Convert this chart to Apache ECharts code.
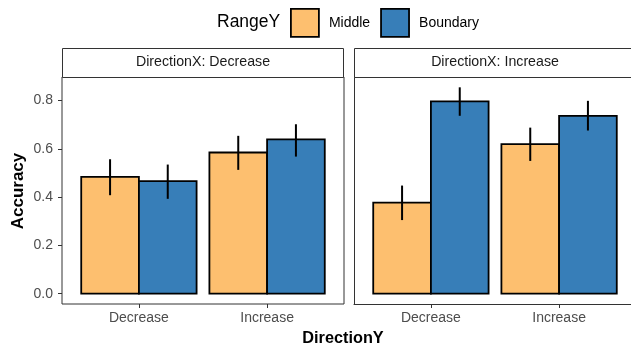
<!DOCTYPE html>
<html>
<head>
<meta charset="utf-8">
<script src="https://cdn.jsdelivr.net/npm/echarts@6/dist/echarts.min.js"></script>
<style>html,body{margin:0;padding:0;background:#fff}#c{width:631px;height:348px}</style>
</head>
<body>
<div id="c"></div>
<script>
// ---- data ----
const categories = ['Decrease', 'Increase'];          // DirectionY
const panels = ['DirectionX: Decrease', 'DirectionX: Increase'];
const rangeNames = ['Middle', 'Boundary'];
// [panel][category]
const middleMean = [[0.484, 0.585], [0.377, 0.620]];
const middleLow  = [[0.408, 0.513], [0.305, 0.550]];
const middleHigh = [[0.557, 0.654], [0.448, 0.688]];
const boundaryMean = [[0.466, 0.639], [0.797, 0.737]];
const boundaryLow  = [[0.393, 0.568], [0.737, 0.676]];
const boundaryHigh = [[0.535, 0.702], [0.855, 0.799]];
const yTicks = [0, 0.2, 0.4, 0.6, 0.8];
const yTickLabels = ['0.0', '0.2', '0.4', '0.6', '0.8'];

const colors = {Middle: '#FDBF6F', Boundary: '#377EB8'};
const FONT = 'Liberation Sans, Arial, sans-serif';

const chart = echarts.init(document.getElementById('c'), null, {renderer: 'canvas'});

const gridDefs = [
  {left: 62, top: 77, width: 282, height: 227},
  {left: 354, top: 77, width: 282, height: 227}
];

const yMin = -0.04275, yMax = 0.89775;

const xAxes = gridDefs.map((g, i) => ({
  type: 'value', gridIndex: i, min: 0.4, max: 2.6,
  splitLine: {show: false},
  axisLine: {show: i === 1, onZero: false, lineStyle: {color: '#333', width: 1}},
  axisTick: {show: true, customValues: [1, 2], length: 4, lineStyle: {color: '#333', width: 1}},
  axisLabel: {show: true, customValues: [1, 2], margin: 7, color: '#4d4d4d', fontSize: 14, fontFamily: FONT,
    formatter: v => categories[Math.round(v) - 1] || ''}
}));
const yAxes = gridDefs.map((g, i) => ({
  type: 'value', gridIndex: i, min: yMin, max: yMax,
  splitLine: {show: false},
  axisLine: {show: i === 1, onZero: false, lineStyle: {color: '#333', width: 1}},
  axisTick: {show: i === 0, customValues: yTicks, length: 4, lineStyle: {color: '#333', width: 1}},
  axisLabel: {show: i === 0, customValues: yTicks, margin: 9, color: '#4d4d4d', fontSize: 14, fontFamily: FONT,
    formatter: v => { const k = yTicks.findIndex(t => Math.abs(t - v) < 1e-9); return k >= 0 ? yTickLabels[k] : ''; }}
}));

function makeSeries(panel, rname) {
  const mean = rname === 'Middle' ? middleMean : boundaryMean;
  const low = rname === 'Middle' ? middleLow : boundaryLow;
  const high = rname === 'Middle' ? middleHigh : boundaryHigh;
  const off = rname === 'Middle' ? -0.45 : 0;
  const data = categories.map((c, k) => [k + 1, mean[panel][k], low[panel][k], high[panel][k]]);
  return {
    type: 'custom', name: rname, xAxisIndex: panel, yAxisIndex: panel,
    itemStyle: {color: colors[rname], borderColor: '#000', borderWidth: 1.8},
    encode: {x: 0, y: 1},
    data: data,
    renderItem: function (params, api) {
      const x = api.value(0), v = api.value(1), lo = api.value(2), hi = api.value(3);
      const p0 = api.coord([x + off, v]);
      const p1 = api.coord([x + off + 0.45, 0]);
      const e0 = api.coord([x + off + 0.225, lo]);
      const e1 = api.coord([x + off + 0.225, hi]);
      return {
        type: 'group',
        children: [
          {type: 'rect', shape: {x: p0[0], y: p0[1], width: p1[0] - p0[0], height: p1[1] - p0[1]},
            style: {fill: colors[rname], stroke: '#000', lineWidth: 1.8}},
          {type: 'line', shape: {x1: e0[0], y1: e0[1], x2: e1[0], y2: e1[1]},
            style: {stroke: '#000', lineWidth: 2}}
        ]
      };
    }
  };
}

const series = [];
[0, 1].forEach(p => rangeNames.forEach(r => series.push(makeSeries(p, r))));

const graphics = [];
// strip for left panel: full box
graphics.push({type: 'rect', shape: {x: 62.5, y: 48.5, width: 281, height: 29},
  style: {fill: '#fff', stroke: '#333', lineWidth: 1}, z: 10});
// strip for right panel: extends past the right edge
graphics.push({type: 'rect', shape: {x: 354.5, y: 48.5, width: 290, height: 29},
  style: {fill: '#fff', stroke: '#333', lineWidth: 1}, z: 10});
gridDefs.forEach((g, i) => {
  graphics.push({type: 'text', x: g.left + g.width / 2, y: 62.5,
    style: {text: panels[i], fill: '#1a1a1a', font: '14.2px ' + FONT, textAlign: 'center', textVerticalAlign: 'middle'}, z: 11});
});
graphics.push({type: 'text', x: 18.5, y: 191, rotation: Math.PI / 2,
  style: {text: 'Accuracy', fill: '#000', font: 'bold 17px ' + FONT, textAlign: 'center', textVerticalAlign: 'middle'}});
graphics.push({type: 'text', x: 343, y: 338.5,
  style: {text: 'DirectionY', fill: '#000', font: 'bold 16.3px ' + FONT, textAlign: 'center', textVerticalAlign: 'middle'}});
graphics.push({type: 'text', x: 217, y: 22,
  style: {text: 'RangeY', fill: '#000', font: '17.5px ' + FONT, textAlign: 'left', textVerticalAlign: 'middle'}});

chart.setOption({
  animation: false,
  backgroundColor: '#fff',
  grid: gridDefs.map((g, i) => Object.assign({show: i === 0, borderColor: '#333', borderWidth: 1, backgroundColor: 'transparent',
    outerBoundsMode: 'none', containLabel: false}, g)),
  xAxis: xAxes,
  yAxis: yAxes,
  legend: {
    left: 290, top: 8, padding: 0, itemWidth: 28, itemHeight: 28, itemGap: 10,
    icon: 'rect',
    textStyle: {fontSize: 14, color: '#000', fontFamily: FONT, padding: [0, 0, 0, 5]},
    data: rangeNames.map(n => ({name: n, itemStyle: {color: colors[n], borderColor: '#000', borderWidth: 1.8}}))
  },
  series: series,
  graphic: graphics
});
</script>
</body>
</html>
